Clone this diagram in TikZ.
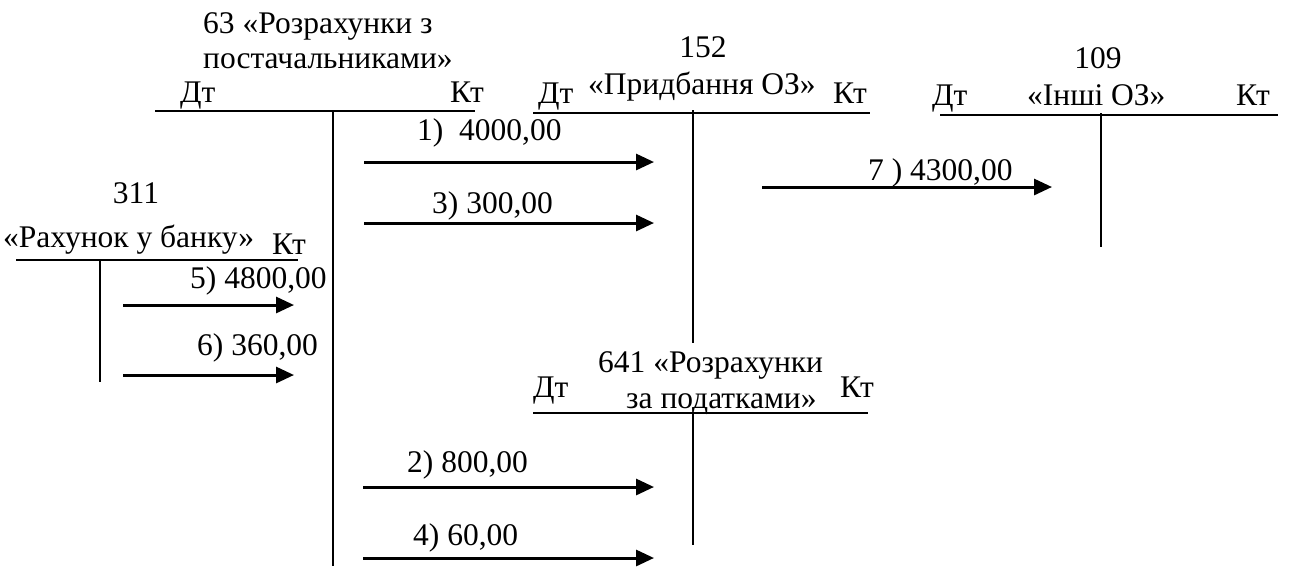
\documentclass[tikz,border=0pt]{standalone}
\usepackage{fontspec}
\setmainfont{Liberation Serif}
\usetikzlibrary{arrows.meta, positioning}

\begin{document}
\begin{tikzpicture}[
    x=1pt, y=-1pt,
    font=\fontsize{31.5}{36}\selectfont,
    txt/.style={anchor=base west, inner sep=0pt, align=left},
    ctr/.style={anchor=base, inner sep=0pt},
    tline/.style={line width=2.2pt},
    arr/.style={-{Triangle[length=18pt, width=16pt]}, line width=3pt}
]
\useasboundingbox (0,0) rectangle (1290,566);

% 63
\node[txt] (n63a) at (203,33) {63 «Розрахунки з};
\node[txt] (n63b) at (203,68) {постачальниками»};
\node[txt] (dt63) at (180,102) {Дт};
\node[txt] (kt63) at (450,102) {Кт};
\coordinate (h63l) at (155,111);
\coordinate (h63r) at (475,111);
\coordinate (v63t) at (333,111);
\coordinate (v63b) at (333,566);
\draw[tline] (h63l) -- (h63r);
\draw[tline] (v63t) -- (v63b);

% 152
\node[ctr] (n152a) at (703,57) {152};
\node[txt] (n152b) at (588,94) {«Придбання ОЗ»};
\node[txt] (dt152) at (538,103) {Дт};
\node[txt] (kt152) at (833,103) {Кт};
\coordinate (h152l) at (533,113);
\coordinate (h152r) at (870,113);
\coordinate (v152t) at (693,110);
\coordinate (v152b) at (693,343);
\draw[tline] (h152l) -- (h152r);
\draw[tline] (v152t) -- (v152b);

% 109
\node[ctr] (n109a) at (1098,68) {109};
\node[txt] (n109b) at (1027,105) {«Інші ОЗ»};
\node[txt] (dt109) at (932,105) {Дт};
\node[txt] (kt109) at (1236,105) {Кт};
\coordinate (h109l) at (940,115);
\coordinate (h109r) at (1278,115);
\coordinate (v109t) at (1101,113);
\coordinate (v109b) at (1101,247);
\draw[tline] (h109l) -- (h109r);
\draw[tline] (v109t) -- (v109b);

% 311
\node[ctr] (n311a) at (136,203) {311};
\node[txt] (n311b) at (3,247) {«Рахунок у банку»};
\node[txt] (kt311) at (272,254) {Кт};
\coordinate (h311l) at (16,260);
\coordinate (h311r) at (298,260);
\coordinate (v311t) at (100,260);
\coordinate (v311b) at (100,382);
\draw[tline] (h311l) -- (h311r);
\draw[tline] (v311t) -- (v311b);

% 641
\node[txt] (n641a) at (598,372) {641 «Розрахунки};
\node[txt] (n641b) at (626,408) {за податками»};
\node[txt] (dt641) at (533,397) {Дт};
\node[txt] (kt641) at (840,397) {Кт};
\coordinate (h641l) at (533,413);
\coordinate (h641r) at (868,413);
\coordinate (v641t) at (693,413);
\coordinate (v641b) at (693,545);
\draw[tline] (h641l) -- (h641r);
\draw[tline] (v641t) -- (v641b);

% entries
\coordinate (a1s) at (364,162);  \coordinate (a1e) at (654,162);
\coordinate (a3s) at (364,223);  \coordinate (a3e) at (654,223);
\coordinate (a7s) at (762,187);  \coordinate (a7e) at (1052,187);
\coordinate (a5s) at (123,305);  \coordinate (a5e) at (294,305);
\coordinate (a6s) at (123,375);  \coordinate (a6e) at (294,375);
\coordinate (a2s) at (363,487);  \coordinate (a2e) at (654,487);
\coordinate (a4s) at (363,558);  \coordinate (a4e) at (654,558);
\draw[arr] (a1s) -- (a1e);
\draw[arr] (a3s) -- (a3e);
\draw[arr] (a7s) -- (a7e);
\draw[arr] (a5s) -- (a5e);
\draw[arr] (a6s) -- (a6e);
\draw[arr] (a2s) -- (a2e);
\draw[arr] (a4s) -- (a4e);
\node[txt] (e1) at (417,140) {1)\ \ 4000,00};
\node[txt] (e3) at (432,213) {3) 300,00};
\node[txt] (e7) at (868,180) {7 ) 4300,00};
\node[txt] (e5) at (190,288) {5) 4800,00};
\node[txt] (e6) at (197,355) {6) 360,00};
\node[txt] (e2) at (407,472) {2) 800,00};
\node[txt] (e4) at (413,545) {4) 60,00};
\end{tikzpicture}
\end{document}
